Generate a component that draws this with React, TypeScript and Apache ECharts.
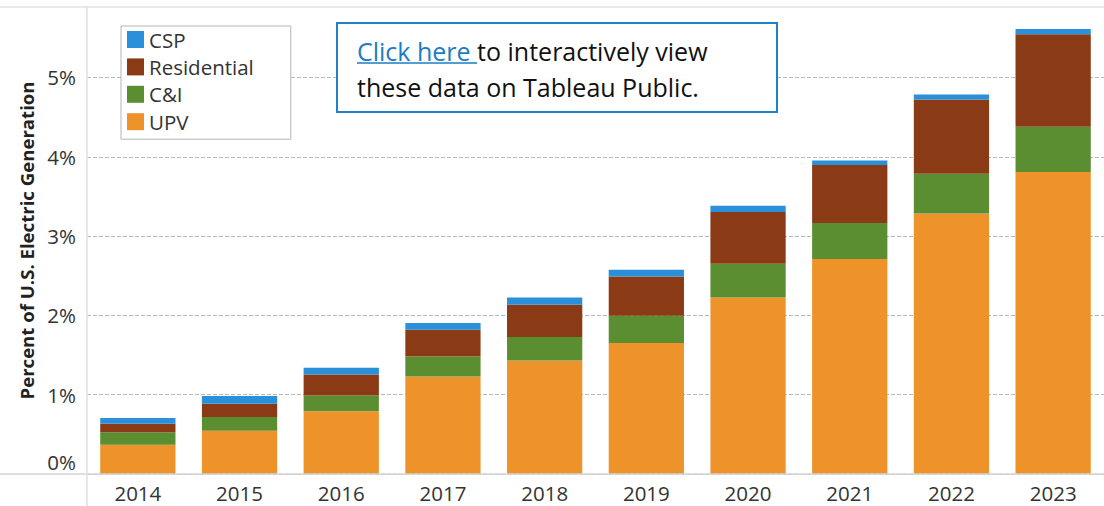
import React, { useEffect, useRef } from "react";
import * as echarts from "echarts";

const years = ["2014", "2015", "2016", "2017", "2018", "2019", "2020", "2021", "2022", "2023"];
const upv = [0.37, 0.546, 0.79, 1.231, 1.432, 1.652, 2.227, 2.71, 3.286, 3.808];
const cni = [0.155, 0.173, 0.2, 0.252, 0.295, 0.344, 0.425, 0.454, 0.501, 0.572];
const residential = [0.11, 0.167, 0.265, 0.337, 0.408, 0.496, 0.652, 0.732, 0.937, 1.164];
const csp = [0.072, 0.097, 0.085, 0.084, 0.092, 0.084, 0.08, 0.058, 0.063, 0.068];
const legendOrder = ["CSP", "Residential", "C&I", "UPV"];
const yTicks = [0, 1, 2, 3, 4, 5];

const COLORS: Record<string, string> = {
  UPV: "#EE932A",
  "C&I": "#5B8E31",
  Residential: "#8B3A16",
  CSP: "#2A90DA",
};

const FONT = "Open Sans";
const NOTE_FONT = "25px 'Open Sans'";
const LINK_TEXT = "Click here ";

function measure(text: string, font: string): number {
  const c = document.createElement("canvas").getContext("2d");
  if (!c) return text.length * 11;
  c.font = font;
  return c.measureText(text).width;
}

export default function App() {
  const ref = useRef<HTMLDivElement>(null);
  useEffect(() => {
    if (!ref.current) return;
    const chart = echarts.init(ref.current, undefined, { renderer: "svg" });
    const linkW = measure(LINK_TEXT, NOTE_FONT);
    const mk = (name: string, data: number[]) => ({
      name,
      type: "bar",
      stack: "total",
      barWidth: "74%",
      data,
      itemStyle: { color: COLORS[name] },
      emphasis: { disabled: true },
    });
    chart.setOption({
      animation: false,
      textStyle: { fontFamily: FONT },
      grid: { left: 87, top: 7, width: 1026.7, height: 467, containLabel: false },
      legend: {
        data: legendOrder,
        orient: "vertical",
        left: 121,
        top: 26,
        padding: [3, 37, 7, 6],
        itemWidth: 17,
        itemHeight: 17,
        itemGap: 6.4,
        icon: "rect",
        borderColor: "#b5b5b5",
        borderWidth: 1,
        backgroundColor: "#fff",
        textStyle: { fontSize: 20.5, color: "#333", fontFamily: FONT },
      },
      xAxis: {
        type: "category",
        data: years,
        axisLine: { show: false },
        axisTick: { show: false },
        axisLabel: { fontSize: 20.5, color: "#333", margin: 8, fontFamily: FONT },
      },
      yAxis: {
        type: "value",
        min: 0,
        max: 5.889,
        interval: 1,
        name: "Percent of U.S. Electric Generation",
        nameLocation: "middle",
        nameGap: 50,
        nameTextStyle: { fontSize: 18.6, fontWeight: "bold", color: "#222", fontFamily: FONT },
        axisLine: { show: false },
        axisTick: { show: false },
        axisLabel: {
          fontSize: 20.5,
          color: "#333",
          margin: 11,
          showMaxLabel: false,
          fontFamily: FONT,
          formatter: (v: number) =>
            yTicks.includes(v) ? (v === 0 ? "{z|0%}" : v + "%") : "",
          rich: { z: { fontSize: 20.5, color: "#333", padding: [0, 0, 24, 0], fontFamily: FONT } },
        },
        splitLine: {
          show: true,
          showMaxLine: false,
          lineStyle: { color: "#b8b8b8", type: [4, 2], width: 1 },
        },
      },
      series: [
        mk("UPV", upv),
        mk("C&I", cni),
        mk("Residential", residential),
        mk("CSP", csp),
      ],
      graphic: [
        { type: "line", shape: { x1: 0, y1: 7, x2: 1104, y2: 7 }, style: { stroke: "#e2e2e2", lineWidth: 1.5 }, z: 100 },
        { type: "line", shape: { x1: 0, y1: 474, x2: 1104, y2: 474 }, style: { stroke: "#d4d4d4", lineWidth: 1.5 }, z: 100 },
        { type: "line", shape: { x1: 87, y1: 7, x2: 87, y2: 506 }, style: { stroke: "#e0e0e0", lineWidth: 1.5 }, z: 100 },
        {
          type: "rect",
          shape: { x: 337, y: 23, width: 440, height: 89 },
          style: { fill: "#fff", stroke: "#1E82C8", lineWidth: 2 },
          z: 100,
        },
        {
          type: "text",
          x: 357,
          y: 51,
          style: { text: LINK_TEXT, fill: "#1A7DC2", font: NOTE_FONT, verticalAlign: "middle" },
          z: 101,
        },
        {
          type: "line",
          shape: { x1: 357, y1: 63, x2: 357 + linkW, y2: 63 },
          style: { stroke: "#1A7DC2", lineWidth: 1.3 },
          z: 101,
        },
        {
          type: "text",
          x: 357 + linkW,
          y: 51,
          style: { text: "to interactively view", fill: "#111", font: NOTE_FONT, verticalAlign: "middle" },
          z: 101,
        },
        {
          type: "text",
          x: 357,
          y: 87,
          style: { text: "these data on Tableau Public.", fill: "#111", font: NOTE_FONT, verticalAlign: "middle" },
          z: 101,
        },
      ],
    });
    return () => chart.dispose();
  }, []);
  return (
    <div
      ref={ref}
      style={{ position: "fixed", left: 0, top: 0, width: 1104, height: 506, background: "#fff" }}
    />
  );
}
